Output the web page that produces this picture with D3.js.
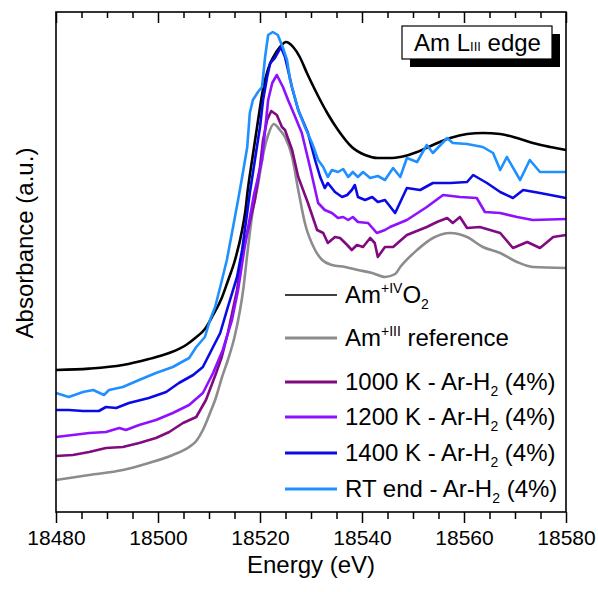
<!DOCTYPE html>
<html>
<head>
<meta charset="utf-8">
<script src="https://cdn.jsdelivr.net/npm/d3@7"></script>
<style>
body { margin:0; background:#fff; }
svg text { font-family: Arial, "Liberation Sans", sans-serif; fill:#000; }
</style>
</head>
<body>
<svg id="xanes"></svg>
<script>
// energy (eV) and absorbance (a.u.) for every spectrum
var amIVEnergy = [18480,18486.5,18493.1,18498.2,18502.2,18505.5,18507.3,18509.2,18510.8,18512.5,18513.7,18515.1,18516.5,18517.1,18517.6,18518.6,18519.6,18520.6,18521.6,18522.5,18523.9,18525.1,18526.5,18527.8,18529.2,18530.8,18532.0,18533.3,18535.3,18538.0,18540.6,18543.1,18545.9,18547.5,18550.8,18553.9,18557.3,18560.6,18563.7,18567.1,18570.4,18573.5,18576.9,18580];
var amIVAbs = [0.71,0.717,0.735,0.765,0.795,0.835,0.87,0.915,0.985,1.07,1.155,1.26,1.41,1.5,1.61,1.785,1.955,2.115,2.215,2.27,2.325,2.35,2.325,2.275,2.195,2.11,2.05,1.99,1.91,1.825,1.785,1.77,1.77,1.775,1.80,1.835,1.87,1.89,1.895,1.89,1.87,1.845,1.825,1.81];

var amIIIEnergy = [18480,18486.5,18493.1,18498.2,18502.9,18506.1,18507.5,18508.8,18510.2,18511.4,18512.5,18513.7,18515.1,18516.7,18517.6,18518.6,18519.6,18520.6,18521.6,18522.7,18523.9,18524.9,18526.3,18527.5,18528.8,18530.8,18532.2,18534.1,18536.7,18539.2,18542.0,18544.5,18546.5,18547.5,18550.8,18553.9,18557.3,18560.6,18563.7,18567.1,18570.4,18573.5,18580];
var amIIIAbs = [0.16,0.185,0.21,0.245,0.285,0.325,0.355,0.41,0.495,0.575,0.67,0.76,0.885,1.11,1.31,1.51,1.635,1.785,1.885,1.94,1.91,1.875,1.775,1.61,1.445,1.31,1.26,1.235,1.225,1.21,1.195,1.175,1.19,1.225,1.31,1.37,1.395,1.375,1.325,1.295,1.25,1.225,1.22];

var k1000Energy = [18480,18483.3,18486.5,18489.8,18493.1,18496.3,18499.6,18502.2,18504.9,18507.5,18509.4,18511.4,18512.5,18513.7,18515.5,18516.7,18517.5,18519.0,18520.0,18520.6,18521.4,18522.2,18523.3,18524.3,18524.9,18526.3,18527.5,18529.4,18531.2,18532.4,18533.3,18534.7,18535.7,18537.1,18538.0,18539.0,18540.2,18541.6,18542.5,18543.1,18544.5,18546.1,18548.8,18552.7,18554.7,18556.7,18557.8,18559.2,18560.6,18563.1,18567.1,18569.6,18572.4,18574.9,18577.5,18580];
var k1000Abs = [0.28,0.285,0.30,0.32,0.325,0.345,0.37,0.40,0.445,0.475,0.56,0.695,0.775,0.895,1.11,1.31,1.395,1.56,1.725,1.86,1.96,2.005,1.985,1.925,1.91,1.81,1.675,1.545,1.41,1.395,1.345,1.375,1.37,1.335,1.31,1.335,1.325,1.37,1.345,1.275,1.325,1.325,1.385,1.425,1.45,1.47,1.445,1.475,1.42,1.425,1.395,1.32,1.35,1.32,1.375,1.385];

var k1200Energy = [18480,18483.3,18486.5,18489.8,18492.4,18493.7,18496.3,18499.6,18502.9,18506.1,18508.8,18510.8,18512.7,18514.5,18515.7,18516.9,18518.8,18520.4,18521.0,18521.6,18522.4,18523.3,18524.5,18525.5,18526.5,18528.2,18529.8,18531.4,18532.7,18534.1,18535.3,18536.3,18537.3,18538.2,18539.2,18541.2,18542.9,18544.5,18545.5,18548.8,18552.7,18555.9,18559.2,18562.5,18564.1,18567.1,18570.4,18573.5,18580];
var k1200Abs = [0.375,0.385,0.395,0.40,0.42,0.41,0.435,0.46,0.495,0.535,0.595,0.695,0.81,0.96,1.11,1.31,1.585,1.76,1.91,2.06,2.145,2.185,2.125,2.06,2.00,1.895,1.725,1.545,1.51,1.495,1.47,1.475,1.46,1.475,1.45,1.445,1.395,1.41,1.425,1.46,1.525,1.585,1.575,1.57,1.50,1.495,1.475,1.46,1.465];

var k1400Energy = [18480,18482.5,18485.3,18488.4,18489.8,18491.8,18494.3,18498.2,18501.6,18504.1,18506.9,18508.8,18510.2,18512.2,18513.7,18515.5,18516.5,18518.0,18519.0,18520.0,18520.6,18521.4,18522.0,18522.9,18524.1,18524.9,18525.5,18526.3,18527.5,18529.4,18530.8,18531.8,18532.7,18533.3,18534.7,18536.1,18537.1,18538.0,18538.6,18539.2,18540.6,18542.0,18543.1,18544.5,18546.5,18548.8,18551.4,18553.9,18557.3,18560.6,18561.8,18564.5,18567.1,18569.6,18571.6,18574.9,18580];
var k1400Abs = [0.51,0.51,0.505,0.505,0.525,0.52,0.545,0.57,0.60,0.645,0.685,0.725,0.795,0.895,1.025,1.175,1.31,1.595,1.76,1.925,2.06,2.175,2.245,2.27,2.325,2.275,2.21,2.12,2.01,1.895,1.76,1.675,1.62,1.645,1.60,1.575,1.585,1.61,1.635,1.575,1.56,1.575,1.55,1.56,1.495,1.62,1.61,1.645,1.645,1.65,1.685,1.645,1.60,1.57,1.61,1.595,1.57];

var rtEndEnergy = [18480,18482.5,18485.3,18487.3,18489.4,18490.4,18493.1,18496.3,18499.6,18502.9,18506.1,18507.5,18509.2,18510.2,18511.2,18512.2,18513.5,18514.5,18515.7,18516.5,18517.5,18518.0,18518.6,18519.6,18520.4,18521.0,18521.6,18522.5,18523.5,18524.5,18525.3,18525.9,18527.5,18528.8,18530.2,18531.4,18532.4,18533.3,18534.1,18535.3,18536.3,18537.3,18538.2,18539.2,18540.2,18541.6,18543.1,18544.5,18546.1,18547.5,18548.8,18550.8,18552.7,18553.9,18556.7,18557.8,18560.6,18563.7,18565.7,18567.1,18568.4,18571.0,18572.9,18574.9,18580];
var rtEndAbs = [0.595,0.575,0.60,0.61,0.585,0.61,0.625,0.66,0.695,0.725,0.77,0.825,0.875,0.96,1.025,1.125,1.26,1.395,1.56,1.675,1.825,1.995,2.06,2.10,2.125,2.275,2.385,2.40,2.385,2.32,2.26,2.16,2.01,1.925,1.845,1.76,1.725,1.675,1.71,1.70,1.715,1.675,1.70,1.675,1.70,1.67,1.68,1.66,1.72,1.675,1.77,1.75,1.835,1.795,1.87,1.845,1.84,1.825,1.795,1.71,1.775,1.66,1.76,1.70,1.70];

var xTicks = [18480,18500,18520,18540,18560,18580];

var series = [
    {energy:amIVEnergy, abs:amIVAbs, color:"#000000", smooth:true, legendWidth:1.5},
    {energy:amIIIEnergy, abs:amIIIAbs, color:"#8c8c8c", smooth:true, legendWidth:3},
    {energy:k1000Energy, abs:k1000Abs, color:"#800a80", smooth:false, legendWidth:3},
    {energy:k1200Energy, abs:k1200Abs, color:"#8f10ff", smooth:false, legendWidth:3},
    {energy:k1400Energy, abs:k1400Abs, color:"#0a0ae6", smooth:false, legendWidth:3},
    {energy:rtEndEnergy, abs:rtEndAbs, color:"#1e90ff", smooth:false, legendWidth:3}
];

var svg = d3.select("#xanes");

var drawLines = function(target,xScale,yScale)
{
    series.forEach(function(s)
    {
        var pts = s.energy.map(function(e,i){ return [e, s.abs[i]]; });
        var line = d3.line()
            .x(function(p){ return xScale(p[0]); })
            .y(function(p){ return yScale(p[1]); })
            .curve(s.smooth ? d3.curveMonotoneX : d3.curveLinear);
        target.append("path")
            .datum(pts)
            .attr("fill", "none")
            .attr("stroke", s.color)
            .attr("stroke-width", 2.6)
            .attr("stroke-linejoin", "round")
            .attr("d", line);
    });
}

var drawAxes = function(graph,margins,xScale)
{
    var minor = d3.range(18480, 18581, 5).filter(function(v){ return v % 20 != 0; });

    var bottom = svg.append("g")
        .attr("transform", "translate(0,"+(margins.top+graph.height)+")");
    bottom.call(d3.axisBottom(xScale).tickValues(xTicks).tickSize(11).tickPadding(7).tickFormat(d3.format("d")));
    bottom.append("g").call(d3.axisBottom(xScale).tickValues(minor).tickSize(7).tickFormat(""));

    var top = svg.append("g")
        .attr("transform", "translate(0,"+margins.top+")");
    top.call(d3.axisBottom(xScale).tickValues(xTicks).tickSize(11).tickFormat(""));
    top.append("g").call(d3.axisBottom(xScale).tickValues(minor).tickSize(6).tickFormat(""));

    svg.selectAll(".domain").remove();
    svg.selectAll(".tick line").attr("stroke", "#000").attr("stroke-width", 1.5);
    bottom.selectAll(".tick text")
        .attr("font-size", "21px")
        .attr("font-family", "Arial, 'Liberation Sans', sans-serif");

    svg.append("rect")
        .attr("x", margins.left)
        .attr("y", margins.top)
        .attr("width", graph.width)
        .attr("height", graph.height)
        .attr("fill", "none")
        .attr("stroke", "#000")
        .attr("stroke-width", 1.6);
}

var drawLabels = function(graph,margins)
{
    svg.append("text")
        .text("Energy (eV)")
        .attr("text-anchor", "middle")
        .attr("font-size", "24px")
        .attr("x", margins.left+graph.width/2)
        .attr("y", 573);

    svg.append("text")
        .text("Absorbance (a.u.)")
        .attr("text-anchor", "middle")
        .attr("font-size", "24px")
        .attr("transform", "translate(33,243) rotate(-90)");

    // edge label box with drop shadow
    var box = svg.append("g");
    box.append("rect").attr("x", 410).attr("y", 34).attr("width", 150).attr("height", 33).attr("fill", "#000");
    box.append("rect").attr("x", 402).attr("y", 26).attr("width", 150).attr("height", 33)
        .attr("fill", "#fff").attr("stroke", "#000").attr("stroke-width", 1.2);
    var t = box.append("text").attr("x", 414).attr("y", 51).attr("font-size", "24px");
    t.append("tspan").text("Am L");
    t.append("tspan").text("III").attr("font-size", "13px");
    t.append("tspan").text(" edge");
}

var drawLegend = function()
{
    var rows = [
        {y:295, parts:[["Am",0],["+IV",-1],["O",0],["2",1]]},
        {y:338, parts:[["Am",0],["+III",-1],[" reference",0]]},
        {y:382, parts:[["1000 K - Ar-H",0],["2",1],[" (4%)",0]]},
        {y:417, parts:[["1200 K - Ar-H",0],["2",1],[" (4%)",0]]},
        {y:453, parts:[["1400 K - Ar-H",0],["2",1],[" (4%)",0]]},
        {y:489, parts:[["RT end - Ar-H",0],["2",1],[" (4%)",0]]}
    ];
    var legend = svg.append("g");
    rows.forEach(function(r,i)
    {
        legend.append("line")
            .attr("x1", 285).attr("x2", 337)
            .attr("y1", r.y).attr("y2", r.y)
            .attr("stroke", series[i].color)
            .attr("stroke-width", series[i].legendWidth);
        var txt = legend.append("text")
            .attr("x", 345).attr("y", r.y+8)
            .attr("font-size", "24px");
        var shift = 0;
        r.parts.forEach(function(p)
        {
            var want = p[1] == -1 ? -10 : (p[1] == 1 ? 6 : 0);
            txt.append("tspan")
                .text(p[0])
                .attr("dy", want-shift)
                .attr("font-size", p[1] == 0 ? "24px" : "14px");
            shift = want;
        });
    });
}

var initGraph = function()
{
    var screen = {width:598,height:592};
    var margins = {left:56,right:32,top:12,bottom:80};
    var graph = {
        width:screen.width-margins.left-margins.right,
        height:screen.height-margins.top-margins.bottom
    };

    svg.attr("width", screen.width).attr("height", screen.height);

    var xScale = d3.scaleLinear()
        .domain([18480,18580])
        .range([margins.left, margins.left+graph.width]);
    var yScale = d3.scaleLinear()
        .domain([0,2.5])
        .range([margins.top+graph.height, margins.top]);

    var plot = svg.append("g");
    drawLines(plot, xScale, yScale);
    drawAxes(graph, margins, xScale);
    drawLabels(graph, margins);
    drawLegend();
}

initGraph();
</script>
</body>
</html>
